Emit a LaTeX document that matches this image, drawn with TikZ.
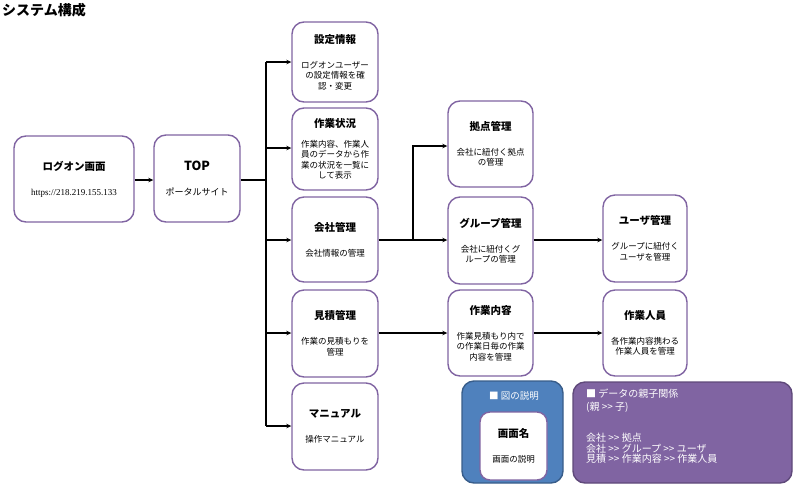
\documentclass[tikz,border=0pt]{standalone}
\usepackage{fontspec}
\setmainfont{Noto Sans CJK JP}
\newfontfamily\urlfont{Liberation Serif}
\usetikzlibrary{arrows.meta}
\definecolor{boxline}{HTML}{8064A2}
\definecolor{legblue}{HTML}{4F81BD}
\definecolor{legblueline}{HTML}{385D8A}
\definecolor{legpurple}{HTML}{8064A2}
\definecolor{legpurpleline}{HTML}{5F497A}
\newcommand{\boxtitle}[1]{{\fontsize{10.5}{12}\selectfont\bfseries #1}}
\newcommand{\gtgt}{>{}>}
\begin{document}
\begin{tikzpicture}[x=1pt,y=-1pt,
  box/.style={draw=boxline, line width=1.4pt, rounded corners=12pt, fill=white,
    align=center, inner sep=0pt, minimum width=86pt, minimum height=84pt,
    font=\fontsize{8.5}{10.5}\selectfont},
  bus/.style={line width=2.2pt},
  arr/.style={line width=1.6pt, -{Stealth[length=5pt,width=4.5pt]}},
  thinarr/.style={line width=1.3pt, -{Stealth[length=5pt,width=4.5pt]}}]
\useasboundingbox (0,0) rectangle (800,488);

\node[anchor=base west, font=\fontsize{14}{16}\selectfont\bfseries, inner sep=0pt] (title) at (2,15) {システム構成};

\node[box, minimum width=120pt, minimum height=86pt] (login) at (74,179)
  {\boxtitle{ログオン画面}\\[14.5pt]{\urlfont\fontsize{9}{10}\selectfont https://218.219.155.133}};
\node[box, minimum width=86pt, minimum height=87pt] (top) at (197,178.5)
  {{\fontsize{12.5}{14}\selectfont\bfseries TOP}\\[14.5pt]{\fontsize{9}{10.5}\selectfont ポータルサイト}};

\node[box, minimum height=80pt] (settei) at (335,62)
  {\boxtitle{設定情報}\\[14.5pt]ログオンユーザー\\の設定情報を確\\認・変更};
\node[box, minimum height=82pt] (joukyou) at (335,149)
  {\boxtitle{作業状況}\\[9pt]作業内容、作業人\\員のデータから作\\業の状況を一覧に\\して表示};
\node[box, minimum height=85pt] (kaisha) at (335,239.5)
  {\boxtitle{会社管理}\\[14.5pt]会社情報の管理};
\node[box, minimum height=87pt] (mitsumori) at (335,333.5)
  {\boxtitle{見積管理}\\[14.5pt]作業の見積もりを\\管理};
\node[box, minimum height=87pt] (manual) at (335,426.5)
  {\boxtitle{マニュアル}\\[14.5pt]操作マニュアル};

\node[box, minimum width=85pt, minimum height=86pt] (kyoten) at (490.5,144)
  {\boxtitle{拠点管理}\\[14.5pt]会社に紐付く拠点\\の管理};
\node[box, minimum width=85pt, minimum height=87pt] (group) at (490.5,240.5)
  {\boxtitle{グループ管理}\\[14.5pt]会社に紐付くグ\\ループの管理};
\node[box, minimum width=85pt, minimum height=86pt] (naiyou) at (490.5,333)
  {\boxtitle{作業内容}\\[14.5pt]作業見積もり内で\\の作業日毎の作業\\内容を管理};

\node[box, minimum width=84pt, minimum height=87pt] (user) at (645,238.5)
  {\boxtitle{ユーザ管理}\\[14.5pt]グループに紐付く\\ユーザを管理};
\node[box, minimum width=84pt, minimum height=86pt] (jinin) at (645,333)
  {\boxtitle{作業人員}\\[14.5pt]各作業内容携わる\\作業人員を管理};

% connectors
\draw[arr] (login.east |- 0,180) -- (top.west |- 0,180);
\coordinate (busT) at (266,62);
\coordinate (busB) at (266,426);
\coordinate (busM) at (266,180);
\draw[bus] (top.east |- busM) -- (busM);
\draw[bus] (busT) -- (busB);
\draw[arr] (busT) -- (settei.west |- busT);
\draw[arr] (266,148) -- (joukyou.west |- 0,148);
\draw[arr] (266,240) -- (kaisha.west |- 0,240);
\draw[arr] (266,333) -- (mitsumori.west |- 0,333);
\draw[arr] (busB) -- (manual.west |- busB);

\coordinate (j) at (413,240);
\draw[bus] (kaisha.east |- j) -- (j);
\draw[arr] (j) -- (group.west |- j);
\draw[arr] (j) |- (kyoten.west |- 0,146);
\draw[thinarr] (group.east |- 0,240) -- (user.west |- 0,240);
\draw[thinarr] (mitsumori.east |- 0,333) -- (naiyou.west |- 0,333);
\draw[thinarr] (naiyou.east |- 0,333) -- (jinin.west |- 0,333);

% legend
\node[draw=legblueline, fill=legblue, line width=1.4pt, rounded corners=12pt,
  minimum width=101pt, minimum height=102pt, inner sep=0pt] (legend) at (512.5,432) {};
\node[anchor=north, text=white, font=\fontsize{9.5}{11}\selectfont, inner sep=0pt] (legtitle) at (514,391) {■ 図の説明};
\node[box, minimum width=67pt, minimum height=68pt, rounded corners=10pt] (sample) at (513.5,446)
  {\boxtitle{画面名}\\[14pt]画面の説明};

\node[draw=legpurpleline, fill=legpurple, line width=1.4pt, rounded corners=12pt,
  minimum width=219pt, minimum height=101pt, inner sep=0pt] (rel) at (682.5,432.5) {};
\node[anchor=north west, text=white, align=left, inner sep=0pt,
  font=\fontsize{10}{10.8}\selectfont] (reltext) at (586,389)
  {■ データの親子関係\\[2pt](親 \gtgt{} 子)\\[20pt]会社 \gtgt{} 拠点\\会社 \gtgt{} グループ \gtgt{} ユーザ\\見積 \gtgt{} 作業内容 \gtgt{} 作業人員};
\end{tikzpicture}
\end{document}
